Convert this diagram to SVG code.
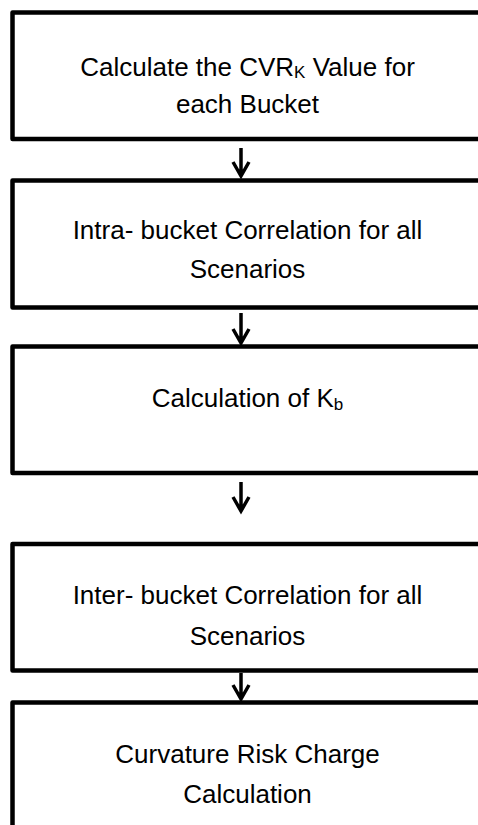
<svg xmlns="http://www.w3.org/2000/svg" width="478" height="825" viewBox="0 0 478 825">
<style>
.box{fill:#fff;stroke:#000;stroke-width:4.5;stroke-linejoin:round}
.t{font-family:"Liberation Sans",Arial,sans-serif;font-size:26px;fill:#000;text-anchor:middle}
.sub{font-size:17px}
.arr{fill:none;stroke:#000;stroke-width:3.5;stroke-linecap:butt;stroke-linejoin:miter}
</style>
<rect width="478" height="825" fill="#fff"/>
<g id="node1">
<rect class="box" x="12.5" y="12.5" width="470" height="126.5"/>
<text class="t" x="247.5" y="76">Calculate the CVR<tspan class="sub" dy="2">K</tspan><tspan dy="-2"> Value for</tspan></text>
<text class="t" x="247.5" y="113">each Bucket</text>
</g>
<g id="node2">
<rect class="box" x="12.5" y="180.5" width="470" height="127"/>
<text class="t" x="247.5" y="239">Intra- bucket Correlation for all</text>
<text class="t" x="247.5" y="278">Scenarios</text>
</g>
<g id="node3">
<rect class="box" x="12.5" y="346.5" width="470" height="126.5"/>
<text class="t" x="247.5" y="407">Calculation of K<tspan class="sub" dy="3">b</tspan></text>
</g>
<g id="node4">
<rect class="box" x="12.5" y="544" width="470" height="126.5"/>
<text class="t" x="247.5" y="604">Inter- bucket Correlation for all</text>
<text class="t" x="247.5" y="645">Scenarios</text>
</g>
<g id="node5">
<rect class="box" x="12.5" y="702.5" width="470" height="140"/>
<text class="t" x="247.5" y="763">Curvature Risk Charge</text>
<text class="t" x="247.5" y="803">Calculation</text>
</g>
<g id="connectors">
<path class="arr" d="M241 148V176M233 162L241 176L249 162"/>
<path class="arr" d="M241 313V343M233 329L241 343L249 329"/>
<path class="arr" d="M241 482V511M233 497L241 511L249 497"/>
<path class="arr" d="M241 673V699M233 685L241 699L249 685"/>
</g>
</svg>
